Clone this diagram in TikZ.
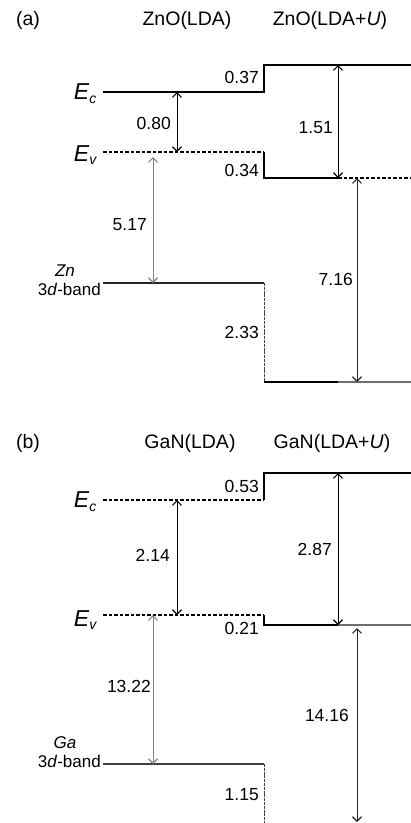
\documentclass[tikz,border=0pt]{standalone}
\usepackage{fontspec}
\setmainfont{Liberation Sans}
\usetikzlibrary{arrows.meta}
\definecolor{arrowgray}{RGB}{130,130,130}
\definecolor{linegray}{RGB}{110,110,110}
\tikzset{
  level/.style={line width=1.2pt, draw=black},
  ldalevel/.style={level, dash pattern=on 3.5pt off 2pt},
  offset/.style={line width=1pt, draw=black!75, dash pattern=on 3pt off 0.8pt},
  gap/.style={{Straight Barb[length=4.5pt,width=9pt,line width=1.1pt]}-{Straight Barb[length=4.5pt,width=9pt,line width=1.1pt]}, line width=1pt},
  gapgray/.style={gap, draw=arrowgray},
  title/.style={font=\fontsize{19.5}{22}\selectfont, inner sep=0pt},
  value/.style={font=\fontsize{17.5}{20}\selectfont, inner sep=0pt, anchor=east},
  energy/.style={font=\fontsize{23}{24}\selectfont\itshape, inner sep=0pt, anchor=east},
  band/.style={font=\fontsize{17}{18}\selectfont, inner sep=0pt}
}

\begin{document}
\begin{tikzpicture}[x=1pt, y=-1pt]
  \useasboundingbox (0,0) rectangle (411,823);

  % ---------- (a) ZnO ----------
  \node[title] (la) at (28,20) {(a)};
  \node[title] (zlda) at (187,20) {ZnO(LDA)};
  \node[title] (zldau) at (330,20) {ZnO(LDA+\textit{U})};

  \coordinate (ecaL) at (103,92);   \coordinate (ecaM) at (264,92);
  \coordinate (ecaU) at (264,65);   \coordinate (ecaR) at (411,65);
  \coordinate (evaL) at (103,152);  \coordinate (evaM) at (264,152);
  \coordinate (evaU) at (264,178);  \coordinate (evaX) at (338,178);
  \coordinate (evaR) at (411,178);
  \coordinate (dbaL) at (103,283);  \coordinate (dbaM) at (264,283);
  \coordinate (dbaU) at (264,382);  \coordinate (dbaX) at (338,382);
  \coordinate (dbaR) at (411,382);

  \draw[level] (ecaL) -- (ecaM) -- (ecaU) -- (ecaR);
  \draw[ldalevel] (evaL) -- (evaM);
  \draw[level] (evaM) -- (evaU) -- (evaX);
  \draw[ldalevel] (evaX) -- (evaR);
  \draw[level, draw=black!85] (dbaL) -- (dbaM);
  \draw[offset] (dbaM) -- (dbaU);
  \draw[level] (dbaU) -- (dbaX);
  \draw[level, draw=linegray] (dbaX) -- (dbaR);

  \node[energy] (eca) at (97,94) {E\textsubscript{\fontsize{14}{14}\selectfont c}};
  \node[energy] (eva) at (97,155) {E\textsubscript{\fontsize{14}{14}\selectfont v}};
  \node[band, font=\fontsize{17}{18}\selectfont\itshape] (zn) at (65,271) {Zn};
  \node[band, anchor=east] (dbatxt) at (101,289) {3\textit{d}-band};

  \draw[gap] (177,92) -- (177,152);
  \draw[gap] (338,65) -- (338,178);
  \draw[gapgray, shorten <=5pt] (153,152) -- (153,283);
  \draw[gap, draw=black!85] (357,178) -- (357,382);

  \node[value] (v037) at (259,77) {0.37};
  \node[value] (v080) at (171,123) {0.80};
  \node[value] (v034) at (259,170) {0.34};
  \node[value] (v151) at (333,128) {1.51};
  \node[value] (v517) at (147,225) {5.17};
  \node[value] (v716) at (353,279) {7.16};
  \node[value] (v233) at (259,332) {2.33};

  % ---------- (b) GaN ----------
  \node[title] (lb) at (28,443) {(b)};
  \node[title] (glda) at (190,443) {GaN(LDA)};
  \node[title] (gldau) at (332,443) {GaN(LDA+\textit{U})};

  \coordinate (ecbL) at (103,500);  \coordinate (ecbM) at (264,500);
  \coordinate (ecbU) at (264,473);  \coordinate (ecbR) at (411,473);
  \coordinate (evbL) at (103,615);  \coordinate (evbM) at (264,615);
  \coordinate (evbU) at (264,625);  \coordinate (evbX) at (338,625);
  \coordinate (evbR) at (411,625);
  \coordinate (dbbL) at (103,764);  \coordinate (dbbM) at (264,764);
  \coordinate (dbbU) at (264,823);

  \draw[ldalevel] (ecbL) -- (ecbM);
  \draw[level] (ecbM) -- (ecbU) -- (ecbR);
  \draw[ldalevel] (evbL) -- (evbM);
  \draw[level] (evbM) -- (evbU) -- (evbX);
  \draw[level, draw=linegray] (evbX) -- (evbR);
  \draw[level, draw=black!75] (dbbL) -- (dbbM);
  \draw[offset] (dbbM) -- (dbbU);

  \node[energy] (ecb) at (97,502) {E\textsubscript{\fontsize{14}{14}\selectfont c}};
  \node[energy] (evb) at (97,620) {E\textsubscript{\fontsize{14}{14}\selectfont v}};
  \node[band, font=\fontsize{17}{18}\selectfont\itshape] (ga) at (65,743) {Ga};
  \node[band, anchor=east] (dbbtxt) at (101,761) {3\textit{d}-band};

  \draw[gap] (177,500) -- (177,615);
  \draw[gap] (338,473) -- (338,625);
  \draw[gapgray] (153,615) -- (153,764);
  \draw[gap, draw=black!85] (357,628) -- (357,822);

  \node[value] (v053) at (259,486) {0.53};
  \node[value] (v214) at (170,555) {2.14};
  \node[value] (v287) at (332,549) {2.87};
  \node[value] (v021) at (259,628) {0.21};
  \node[value] (v1322) at (151,686) {13.22};
  \node[value] (v1416) at (349,715) {14.16};
  \node[value] (v115) at (259,795) {1.15};
\end{tikzpicture}
\end{document}
